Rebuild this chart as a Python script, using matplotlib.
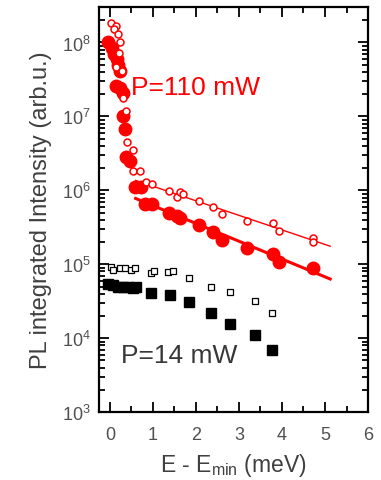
import matplotlib
matplotlib.use("Agg")
import matplotlib.pyplot as plt
import numpy as np
from matplotlib.ticker import LogLocator, MultipleLocator, NullFormatter

plt.rcParams['font.family'] = ['Liberation Sans', 'DejaVu Sans']

# P=110 mW, filled circles
red_full_x = [-0.05, 0.05, 0.09, 0.16, 0.20, 0.23, 0.14, 0.23, 0.30, 0.30, 0.35, 0.37, 0.47, 0.58, 0.72,
              0.81, 0.98, 1.37, 1.56, 1.63, 2.07, 2.40, 2.60, 3.19, 3.79, 3.93, 4.72]
red_full_y = [1.03e8, 8.5e7, 7.0e7, 5.9e7, 4.9e7, 4.1e7, 2.6e7, 2.4e7, 2.1e7, 1.0e7, 6.7e6, 2.8e6, 2.5e6, 1.1e6, 1.1e6,
              6.6e5, 6.5e5, 5.0e5, 4.5e5, 4.2e5, 3.4e5, 2.7e5, 2.1e5, 1.65e5, 1.38e5, 1.07e5, 8.9e4]

# P=110 mW, open circles
red_open_x = [0.02, 0.14, 0.09, 0.19, 0.23, 0.21, 0.14, 0.28, 0.30, 0.37, 0.40, 0.53, 0.53, 0.70, 0.84, 0.98,
              1.37, 1.56, 1.63, 1.70, 2.07, 2.40, 2.60, 3.19, 3.79, 3.93, 4.72, 4.72]
red_open_y = [1.86e8, 1.65e8, 1.5e8, 1.3e8, 1.0e8, 7.3e7, 4.7e7, 4.1e7, 1.8e7, 1.2e7, 4.5e6, 3.5e6, 1.8e6, 1.8e6, 1.3e6, 1.2e6,
              9.7e5, 8.1e5, 9.4e5, 8.9e5, 7.1e5, 5.9e5, 4.8e5, 3.8e5, 3.6e5, 2.8e5, 2.3e5, 2.0e5]

# P=14 mW, filled squares
blk_full_x = [-0.05, 0.07, 0.19, 0.30, 0.42, 0.53, 0.60, 0.95, 1.40, 1.84, 2.35, 2.79, 3.37, 3.77]
blk_full_y = [5.4e4, 5.2e4, 5.0e4, 5.0e4, 4.9e4, 4.8e4, 4.9e4, 4.1e4, 3.9e4, 3.1e4, 2.2e4, 1.55e4, 1.1e4, 6.9e3]

# P=14 mW, open squares
blk_open_x = [0.02, 0.07, 0.23, 0.35, 0.49, 0.58, 0.95, 1.02, 1.35, 1.47, 1.84, 2.35, 2.79, 3.37, 3.77]
blk_open_y = [9.3e4, 8.5e4, 8.9e4, 8.9e4, 8.5e4, 8.9e4, 7.6e4, 8.1e4, 7.8e4, 8.1e4, 6.5e4, 5.0e4, 4.2e4, 3.2e4, 2.2e4]

# exponential fits: log10(I) = a + b*E
fit_x = [0.6, 5.12]
fit_full = (6.035, -0.241)
fit_open = (6.253, -0.197)

fig = plt.figure(figsize=(3.81, 4.81), dpi=100)
ax = fig.add_axes([0.260, 0.141, 0.706, 0.842])

fx = np.array(fit_x)
ax.plot(fx, 10 ** (fit_open[0] + fit_open[1] * fx), color='red', lw=1.0, zorder=2)
ax.plot(fx, 10 ** (fit_full[0] + fit_full[1] * fx), color='red', lw=2.2, zorder=2)

ax.plot(red_full_x, red_full_y, 'o', color='red', ms=9, mec='red', zorder=3)
ax.plot(red_open_x, red_open_y, 'o', mfc='white', mec='red', ms=5, mew=1.1, zorder=4)
ax.plot(blk_full_x, blk_full_y, 's', color='black', ms=7.8, zorder=3)
ax.plot(blk_open_x, blk_open_y, 's', mfc='white', mec='black', ms=4.5, mew=0.9, zorder=4)

ax.set_yscale('log')
ax.set_xlim(-0.25, 6)
ax.set_ylim(1e3, 3e8)

ax.xaxis.set_major_locator(MultipleLocator(1))
ax.xaxis.set_minor_locator(MultipleLocator(0.5))
ax.yaxis.set_major_locator(LogLocator(base=10, numticks=10))
ax.yaxis.set_minor_locator(LogLocator(base=10, subs=np.arange(2, 10), numticks=20))
ax.yaxis.set_minor_formatter(NullFormatter())

for s in ax.spines.values():
    s.set_linewidth(1.6)
ax.tick_params(which='both', direction='in', top=True, right=True, colors='black',
               labelcolor='#505050', width=1.3)
ax.tick_params(which='major', length=7, labelsize=13)
ax.tick_params(which='minor', length=4)
ax.tick_params(axis='x', pad=10)
ax.tick_params(axis='y', pad=6)

ax.set_xlabel(r'E - E$_\mathregular{min}$ (meV)', fontsize=16.5, color='#404040', labelpad=6)
ax.set_ylabel('PL integrated Intensity (arb.u.)', fontsize=17, color='#404040', labelpad=7)

ax.text(0.5, 2.5e7, 'P=110 mW', color='red', fontsize=19, va='center', ha='left')
ax.text(0.26, 6e3, 'P=14 mW', color='#383838', fontsize=19, va='center', ha='left')

fig.savefig('out.png', dpi=100)
